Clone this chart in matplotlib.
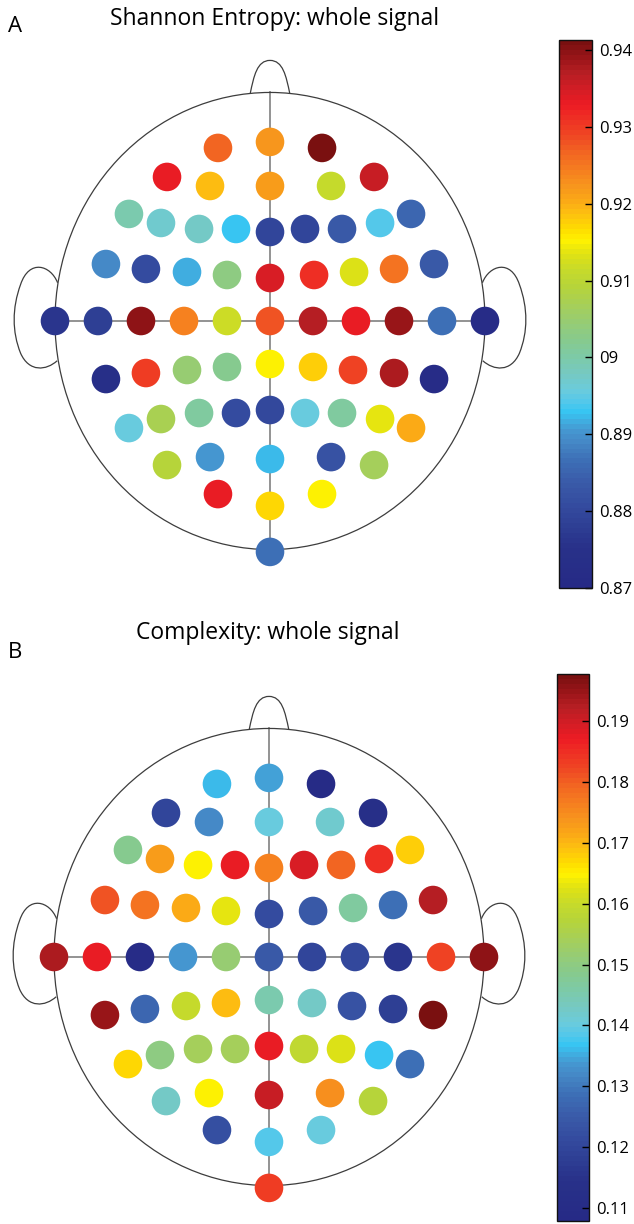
import numpy as np
import matplotlib
matplotlib.use("Agg")
import matplotlib.pyplot as plt
from matplotlib.colors import LinearSegmentedColormap, Normalize
from matplotlib.patches import Circle, Ellipse, PathPatch
from matplotlib.path import Path
import matplotlib.cm as cm

plt.rcParams['font.family'] = ['Open Sans', 'DejaVu Sans']

# ---------------- data ----------------
electrodes = ['Fp1', 'Fpz', 'Fp2',
              'AF7', 'AF3', 'AFz', 'AF4', 'AF8',
              'F7', 'F5', 'F3', 'F1', 'Fz', 'F2', 'F4', 'F6', 'F8',
              'FT7', 'FC5', 'FC3', 'FC1', 'FCz', 'FC2', 'FC4', 'FC6', 'FT8',
              'T9', 'T7', 'C5', 'C3', 'C1', 'Cz', 'C2', 'C4', 'C6', 'T8', 'T10',
              'TP7', 'CP5', 'CP3', 'CP1', 'CPz', 'CP2', 'CP4', 'CP6', 'TP8',
              'P7', 'P5', 'P3', 'P1', 'Pz', 'P2', 'P4', 'P6', 'P8',
              'PO7', 'PO3', 'POz', 'PO4', 'PO8',
              'O1', 'Oz', 'O2', 'Iz']

# electrode layout in head units (x to the right ear, y to the nose)
elec_x = [-0.242, 0.0, 0.242,
          -0.479, -0.279, 0.0, 0.284, 0.484,
          -0.656, -0.507, -0.330, -0.158, 0.0, 0.163, 0.335, 0.512, 0.656,
          -0.763, -0.577, -0.386, -0.200, 0.0, 0.205, 0.391, 0.577, 0.763,
          -1.0, -0.8, -0.6, -0.4, -0.2, 0.0, 0.2, 0.4, 0.6, 0.8, 1.0,
          -0.763, -0.577, -0.386, -0.200, 0.0, 0.200, 0.386, 0.577, 0.763,
          -0.656, -0.507, -0.330, -0.158, 0.0, 0.163, 0.335, 0.512, 0.656,
          -0.479, -0.279, 0.0, 0.284, 0.484,
          -0.242, 0.0, 0.242, 0.0]
elec_y = [0.805, 0.833, 0.805,
          0.670, 0.628, 0.628, 0.628, 0.670,
          0.498, 0.456, 0.428, 0.428, 0.414, 0.428, 0.428, 0.456, 0.498,
          0.265, 0.242, 0.228, 0.214, 0.200, 0.214, 0.228, 0.242, 0.265,
          0.0, 0.0, 0.0, 0.0, 0.0, 0.0, 0.0, 0.0, 0.0, 0.0, 0.0,
          -0.270, -0.242, -0.228, -0.214, -0.200, -0.214, -0.228, -0.242, -0.270,
          -0.498, -0.456, -0.428, -0.428, -0.414, -0.428, -0.428, -0.456, -0.498,
          -0.670, -0.633, -0.642, -0.633, -0.670,
          -0.805, -0.860, -0.805, -1.074]

entropy = [0.9269, 0.9225, 0.9409,
           0.9331, 0.9188, 0.9213, 0.9114, 0.9356,
           0.8992, 0.8967, 0.8978, 0.8928, 0.8793, 0.8793, 0.8835, 0.8942, 0.8850,
           0.8889, 0.8807, 0.8914, 0.9035, 0.9345, 0.9313, 0.9128, 0.9256, 0.8835,
           0.8764, 0.8778, 0.9399, 0.9242, 0.9121, 0.9281, 0.9370, 0.9331, 0.9388, 0.8864, 0.8714,
           0.8736, 0.9302, 0.9049, 0.9021, 0.9153, 0.9178, 0.9292, 0.9377, 0.8714,
           0.8957, 0.9074, 0.9007, 0.8807, 0.8800, 0.8957, 0.9007, 0.9138, 0.9203,
           0.9092, 0.8903, 0.8921, 0.8821, 0.9064,
           0.9331, 0.9167, 0.9153, 0.8864]

complexity = [0.1357, 0.1348, 0.1088,
              0.1196, 0.1317, 0.1402, 0.1416, 0.1124,
              0.1483, 0.1726, 0.1649, 0.1874, 0.1761, 0.1892, 0.1796, 0.1851, 0.1681,
              0.1811, 0.1779, 0.1712, 0.1631, 0.1214, 0.1250, 0.1465, 0.1286, 0.1923,
              0.1932, 0.1874, 0.1097, 0.1335, 0.1519, 0.1250, 0.1196, 0.1205, 0.1160, 0.1824, 0.1959,
              0.1946, 0.1268, 0.1600, 0.1694, 0.1447, 0.1429, 0.1232, 0.1178, 0.1973,
              0.1667, 0.1501, 0.1537, 0.1537, 0.1874, 0.1586, 0.1618, 0.1366, 0.1286,
              0.1429, 0.1649, 0.1905, 0.1745, 0.1573,
              0.1223, 0.1384, 0.1402, 0.1838]

entropy_range = (0.87, 0.9413)
complexity_range = (0.1079, 0.1977)
entropy_ticks = [0.87, 0.88, 0.89, 0.90, 0.91, 0.92, 0.93, 0.94]
entropy_ticklabels = ['0.87', '0.88', '0.89', '09', '0.91', '0.92', '0.93', '0.94']
complexity_ticks = [0.11, 0.12, 0.13, 0.14, 0.15, 0.16, 0.17, 0.18, 0.19]
complexity_ticklabels = ['0.11', '0.12', '0.13', '0.14', '0.15', '0.16', '0.17', '0.18', '0.19']

titles = ['Shannon Entropy: whole signal', 'Complexity: whole signal']
panel_letters = ['A', 'B']

# ---------------- style ----------------
anchors = [(0.00, '#262a86'), (0.07, '#283189'), (0.14, '#33499d'), (0.19, '#3a5ba9'),
           (0.23, '#3d6fb6'), (0.265, '#4588c6'), (0.285, '#4596d0'), (0.30, '#42a9dd'),
           (0.32, '#36c5f2'), (0.34, '#55c8ea'), (0.36, '#6acbdc'), (0.39, '#76c9c2'),
           (0.42, '#7ccaa8'), (0.45, '#86ca8f'), (0.47, '#8fcb80'), (0.51, '#a3ce5e'),
           (0.55, '#b6d43a'), (0.58, '#c6da2b'), (0.61, '#e0e214'), (0.635, '#fff200'),
           (0.655, '#fedd00'), (0.685, '#fdbf10'), (0.705, '#fbab16'), (0.736, '#f7941d'),
           (0.76, '#f6821f'), (0.798, '#f26522'), (0.83, '#ef4623'), (0.86, '#ee3024'),
           (0.885, '#ed1c24'), (0.915, '#d21d25'), (0.945, '#b51e23'), (0.97, '#9b1519'),
           (1.00, '#7a1010')]
cmap = LinearSegmentedColormap.from_list('adobejet', anchors, N=110)

W, H = 634, 1224
R = 215.0  # pixels per head unit
fig = plt.figure(figsize=(W / 100, H / 100), dpi=100)

HEAD_RY = 1.063
EL_R = 0.0665
OUTLINE = '#3d3d3d'


def head_axes(cx, cy, left, top, right, bottom):
    ax = fig.add_axes([left / W, 1 - bottom / H, (right - left) / W, (bottom - top) / H])
    ax.set_xlim((left - cx) / R, (right - cx) / R)
    ax.set_ylim((cy - bottom) / R, (cy - top) / R)
    ax.axis('off')
    return ax


def draw_head(ax):
    ax.add_patch(Ellipse((0, 0), 2.0, 2 * HEAD_RY, fill=False, ec=OUTLINE, lw=0.9, zorder=2))
    # nose
    nose = Path([(-0.092, 1.058), (-0.075, 1.14), (-0.06, 1.212), (0.0, 1.212),
                 (0.06, 1.212), (0.075, 1.14), (0.092, 1.058)],
                [Path.MOVETO, Path.CURVE4, Path.CURVE4, Path.CURVE4,
                 Path.CURVE4, Path.CURVE4, Path.CURVE4])
    ax.add_patch(PathPatch(nose, fill=False, ec=OUTLINE, lw=0.9, zorder=2))
    # ears
    left_ear = [(-0.988, 0.178), (-1.02, 0.26), (-1.12, 0.29), (-1.16, 0.17),
                (-1.20, 0.06), (-1.20, -0.05), (-1.16, -0.15),
                (-1.12, -0.24), (-1.04, -0.23), (-0.99, -0.185)]
    codes = [Path.MOVETO] + [Path.CURVE4] * 9
    for s in (1, -1):
        pts = [(s * x, y) for x, y in left_ear]
        ax.add_patch(PathPatch(Path(pts, codes), fill=False, ec=OUTLINE, lw=0.9, zorder=2))
    # guide lines
    ax.plot([0, 0], [HEAD_RY, min(elec_y)], color='#8a8a8a', lw=1.3, zorder=1)
    ax.plot([min(elec_x), max(elec_x)], [0, 0], color='#8a8a8a', lw=1.3, zorder=1)


def draw_panel(ax, values, vrange):
    norm = Normalize(*vrange)
    draw_head(ax)
    for x, y, v in zip(elec_x, elec_y, values):
        ax.add_patch(Circle((x, y), EL_R, fc=cmap(norm(v)), ec='none', zorder=3))
    return norm


def draw_cbar(rect_px, norm, ticks, labels):
    l, t, r, b = rect_px
    cax = fig.add_axes([l / W, 1 - b / H, (r - l) / W, (b - t) / H])
    sm = cm.ScalarMappable(norm=norm, cmap=cmap)
    cb = fig.colorbar(sm, cax=cax, ticks=ticks)
    cb.ax.set_yticklabels(labels)
    cb.ax.tick_params(direction='in', length=5, width=1, labelsize=12, pad=5, colors='black')
    cb.outline.set_linewidth(1.0)
    cb.outline.set_edgecolor('#111111')
    return cb


# Panel A
axA = head_axes(270, 321, 0, 35, 545, 620)
normA = draw_panel(axA, entropy, entropy_range)
draw_cbar((559, 40, 592, 588), normA, entropy_ticks, entropy_ticklabels)
fig.text(275 / W, 1 - 19 / H, titles[0], ha='center', va='center', fontsize=16.5)
fig.text(15 / W, 1 - 27 / H, panel_letters[0], ha='center', va='center', fontsize=16)

# Panel B
axB = head_axes(269, 957, 0, 670, 545, 1224)
normB = draw_panel(axB, complexity, complexity_range)
draw_cbar((557, 674, 589, 1221), normB, complexity_ticks, complexity_ticklabels)
fig.text(268 / W, 1 - 633 / H, titles[1], ha='center', va='center', fontsize=16.5)
fig.text(15 / W, 1 - 652 / H, panel_letters[1], ha='center', va='center', fontsize=16)

fig.savefig('out.png', dpi=100, facecolor='white')
